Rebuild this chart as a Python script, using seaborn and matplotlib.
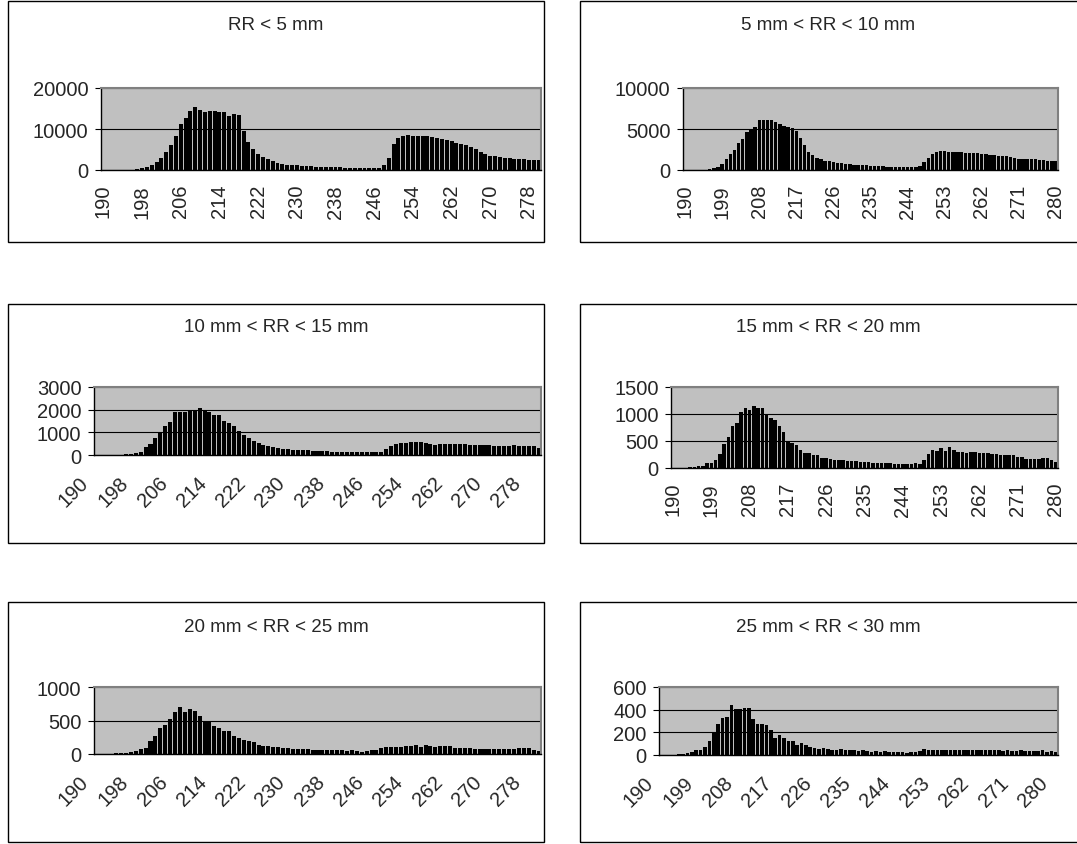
import matplotlib
matplotlib.use("Agg")
import matplotlib.pyplot as plt
import matplotlib.patches as mpatches
from matplotlib.transforms import ScaledTranslation
import seaborn as sns
import pandas as pd
import numpy as np

# day of year, 190 .. 280
days = list(range(190, 281))

# counts per class of rainfall (RR)
rr_0_5 = ([0] * 6 +
          [100, 200, 400, 700, 1100, 2000, 3000, 4400, 6200, 8200,
           11200, 12800, 14400, 15300, 14600, 14100, 14300, 14500, 14200, 14100,
           13200, 13700, 13400, 9500, 6900, 5200, 3900, 3100, 2600, 2100, 1700] +
          [1500, 1300, 1200, 1100, 1000, 1000, 900, 800, 800, 700,
           700, 700, 700, 600, 600, 600, 600, 600, 600, 500, 600] +
          [1200, 2900, 6300, 7700, 8200, 8500, 8400, 8300, 8300, 8300,
           8100, 7800, 7600, 7200, 7000, 6700, 6400, 6200, 5500, 5100,
           4500, 4000, 3500, 3400, 3200, 3000, 2900, 2700, 2600, 2600,
           2500, 2500, 2500])

rr_5_10 = ([0] * 6 +
           [100, 200, 400, 700, 1300, 1900, 2500, 3300, 3750, 4600,
            5000, 5200, 6100, 6100, 6100, 6100, 5800, 5600, 5400, 5300,
            5100, 4800, 3900, 3000, 2200, 1800, 1500, 1300, 1150, 1050, 950] +
           [850, 800, 750, 700, 650, 600, 600, 550, 500, 500,
            450, 450, 400, 400, 400, 400, 400, 350, 350, 400, 450] +
           [1000, 1500, 2000, 2200, 2300, 2300, 2250, 2250, 2200, 2150,
            2100, 2100, 2050, 2050, 2000, 1950, 1850, 1800, 1750, 1700,
            1650, 1550, 1450, 1400, 1400, 1350, 1350, 1300, 1250, 1200,
            1150, 1100, 1100])

rr_10_15 = ([0] * 6 +
            [50, 60, 100, 150, 350, 500, 750, 1000, 1300, 1450,
             1900, 1900, 1900, 2000, 2000, 2080, 2000, 1900, 1750, 1750,
             1500, 1400, 1280, 1080, 900, 770, 630, 530, 450, 400, 340] +
            [300, 280, 260, 240, 220, 210, 200, 190, 180, 170, 160,
             150, 150, 140, 140, 130, 130, 130, 130, 130, 140, 150] +
            [250, 400, 500, 550, 530, 570, 570, 560, 550, 480,
             460, 500, 500, 500, 500, 480, 480, 460, 450, 440,
             450, 420, 400, 400, 400, 400, 420, 390, 390, 380, 380, 330])

rr_15_20 = ([0] * 4 +
            [19, 25, 32, 38, 89, 101, 146, 266, 443, 570,
             772, 829, 1032, 1108, 1076, 1152, 1108, 1114, 975, 918,
             880, 785, 671, 506, 462, 418, 342, 272, 272, 240, 240, 190, 190] +
            [165, 150, 145, 139, 133, 127, 127, 120, 108, 114,
             101, 95, 95, 89, 89, 82, 82, 82, 82, 82, 89] +
            [80, 152, 253, 335, 323, 373, 316, 392, 342, 297,
             304, 285, 304, 304, 272, 278, 278, 266, 260, 247,
             234, 240, 234, 203, 196, 171, 171, 171, 171, 184,
             190, 139, 120])

rr_20_25 = ([0] * 4 +
            [15, 20, 20, 35, 50, 75, 95, 188, 274, 391,
             427, 528, 620, 696, 620, 670, 645, 564, 478, 483,
             411, 391, 350, 340, 274, 244, 203, 188, 178, 127, 122, 112, 107] +
            [102, 91, 86, 76, 81, 71, 71, 66, 66, 61,
             61, 61, 56, 61, 51, 56, 41, 35, 46, 56, 56] +
            [86, 102, 107, 102, 102, 112, 112, 127, 107, 140,
             112, 107, 112, 117, 112, 97, 97, 97, 86, 76,
             76, 81, 71, 81, 71, 76, 81, 71, 91, 91, 86, 61, 50])

rr_25_30 = ([0] * 4 +
            [9, 12, 15, 25, 40, 43, 74, 126, 197, 277,
             326, 333, 444, 407, 407, 416, 416, 320, 274, 274,
             268, 222, 154, 179, 151, 123, 123, 86, 105, 86, 74, 65, 49] +
            [58, 49, 46, 46, 49, 43, 43, 43, 37, 43,
             31, 28, 31, 28, 31, 28, 25, 25, 25, 18, 25] +
            [25, 31, 55, 40, 46, 46, 46, 46, 46, 46,
             43, 40, 43, 43, 40, 46, 43, 40, 43, 46,
             37, 43, 34, 37, 43, 34, 37, 37, 31, 40, 28, 34, 30])

titles = ["RR < 5 mm", "5 mm < RR < 10 mm", "10 mm < RR < 15 mm",
          "15 mm < RR < 20 mm", "20 mm < RR < 25 mm", "25 mm < RR < 30 mm"]
series = [rr_0_5, rr_5_10, rr_10_15, rr_15_20, rr_20_25, rr_25_30]
y_max = [20000, 10000, 3000, 1500, 1000, 600]
y_step = [10000, 5000, 1000, 500, 500, 200]
label_every = [8, 9, 8, 9, 8, 9]
label_rot = [90, 90, 45, 90, 45, 45]

W, H = 1077, 845
sns.set_style("white")
plt.rcParams["font.family"] = ["Liberation Sans", "DejaVu Sans"]

fig = plt.figure(figsize=(W / 100, H / 100), dpi=100)

# pixel boxes: (left, top, right, bottom)
frames = [(8, 2, 544, 243), (580, 2, 1090, 243),
          (8, 305, 544, 544), (580, 305, 1090, 544),
          (8, 603, 544, 843), (580, 603, 1090, 843)]
plot_areas = [(101, 89, 541, 171), (683, 89, 1058, 171),
              (94, 388, 541, 456), (671, 388, 1058, 469),
              (94, 688, 541, 755), (659, 688, 1058, 756)]
title_y = [25, 25, 328, 328, 628, 628]
tick_fs = 14.5


def px_rect(l, t, r, b):
    return [l / W, 1 - b / H, (r - l) / W, (b - t) / H]


for i in range(6):
    fl, ft, fr, fb = frames[i]
    box = mpatches.Rectangle((fl / W, 1 - fb / H), (fr - fl) / W, (fb - ft) / H,
                             transform=fig.transFigure, fill=False,
                             edgecolor="black", lw=1)
    fig.add_artist(box)
    fig.text(((fl + min(fr, W)) / 2) / W, 1 - title_y[i] / H, titles[i],
             ha="center", va="center", fontsize=13.5)

    ax = fig.add_axes(px_rect(*plot_areas[i]))
    ax.set_facecolor("#C0C0C0")
    df = pd.DataFrame({"day": days, "count": series[i]})
    sns.barplot(data=df, x="day", y="count", ax=ax, color="black",
                saturation=1, width=0.82, linewidth=0)

    n = len(days)
    ax.set_xlim(-0.5, n - 0.5)
    ax.set_ylim(0, y_max[i])
    ax.set_yticks(range(0, y_max[i] + 1, y_step[i]))
    ax.yaxis.grid(True, color="black", lw=0.8)
    ax.set_axisbelow(True)
    ax.set_xlabel("")
    ax.set_ylabel("")

    pos = list(range(0, n, label_every[i]))
    ax.set_xticks(pos)
    ax.set_xticks(np.arange(-0.5, n, 1), minor=True)
    ax.tick_params(axis="x", which="minor", length=4, width=0.8,
                   color="black", direction="out")
    ax.tick_params(axis="y", length=4, width=0.8, color="black",
                   labelsize=tick_fs, direction="out", left=True, pad=5)
    if label_rot[i] == 90:
        ax.set_xticklabels([str(days[p]) for p in pos], rotation=90,
                           ha="center", va="top", fontsize=tick_fs)
        ax.tick_params(axis="x", which="major", length=0, pad=10)
    else:
        ax.set_xticklabels([str(days[p]) for p in pos], rotation=45,
                           ha="right", va="top", fontsize=tick_fs)
        ax.tick_params(axis="x", which="major", length=0, pad=13)
        shift = ScaledTranslation(-0.04, 0, fig.dpi_scale_trans)
        for lab in ax.get_xticklabels():
            lab.set_transform(lab.get_transform() + shift)

    for side in ["top", "right"]:
        ax.spines[side].set_color("#808080")
        ax.spines[side].set_linewidth(1.5)
    for side in ["left", "bottom"]:
        ax.spines[side].set_color("black")
        ax.spines[side].set_linewidth(1)

fig.savefig("out.png", dpi=100)
